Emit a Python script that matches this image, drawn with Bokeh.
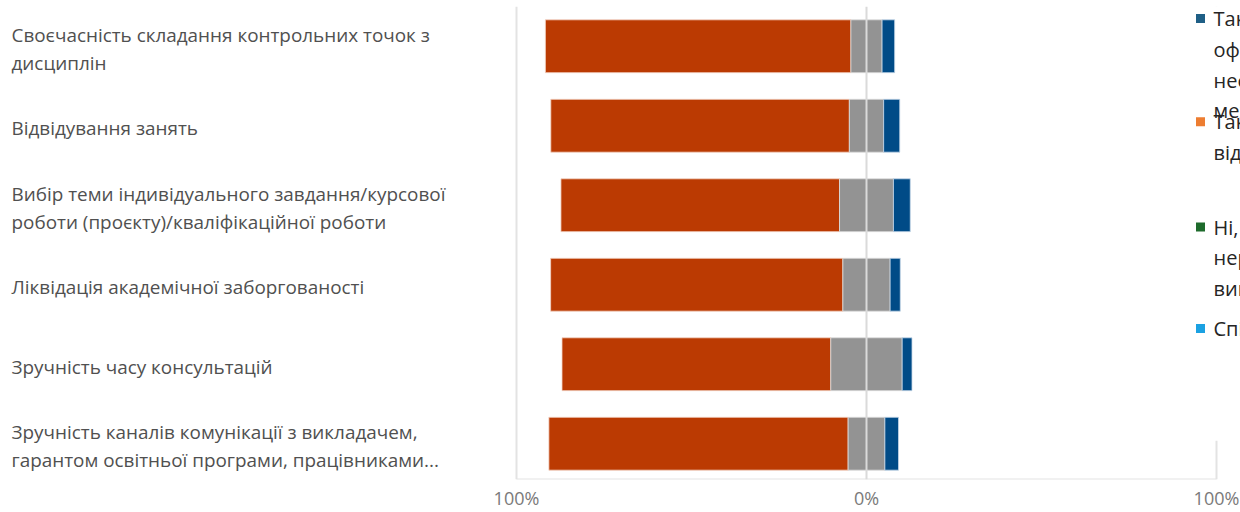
import numpy as np
from bokeh.plotting import figure
from bokeh.models import Range1d, FixedTicker, Span
from bokeh.core.properties import value
from bokeh.embed import file_html
from bokeh.resources import INLINE

# ---------------- data ----------------
categories = [
    "Своєчасність складання контрольних точок з\nдисциплін",
    "Відвідування занять",
    "Вибір теми індивідуального завдання/курсової\nроботи (проєкту)/кваліфікаційної роботи",
    "Ліквідація академічної заборгованості",
    "Зручність часу консультацій",
    "Зручність каналів комунікації з викладачем,\nгарантом освітньої програми, працівниками...",
]
negative = [87.3, 85.3, 79.6, 83.5, 76.8, 85.5]   # left (orange-red)
neutral = [8.9, 9.8, 15.4, 13.5, 20.4, 10.5]      # centred (grey)
positive = [3.6, 4.6, 4.8, 2.9, 2.8, 3.9]         # right (dark blue)

tick_values = [-100, 0, 100]
tick_labels = ["100%", "0%", "100%"]

legend_labels = [
    "Так, існують\nофіційні та\nнеофіційні\nмеханізми",
    "Так, але\nвідсутні правила",
    "Ні, бо\nнерегульовано\nвиникає",
    "Спірне питання",
]
legend_colors = ["#1f5f86", "#ed7d31", "#1e6b2c", "#1ba1e2"]

COL_NEG, COL_NEU, COL_POS = "#bb3a02", "#939393", "#004b87"

# ---------------- layout helpers ----------------
W, H = 1240, 512
TOP = 6
BOTTOM = 30
FRAME_H = H - TOP - BOTTOM
PX_PER_UNIT = 3.5
ZERO_PX = 866          # page x of 0%
X_START = (0 - ZERO_PX) / PX_PER_UNIT
X_END = (W - ZERO_PX) / PX_PER_UNIT
Y_TOP, Y_BOT = -0.5, 5.45


def px2x(px):
    return (px - ZERO_PX) / PX_PER_UNIT


def py2y(py):
    return Y_TOP + (py - TOP) / FRAME_H * (Y_BOT - Y_TOP)


rows = np.arange(len(categories))
neg = np.array(negative)
neu = np.array(neutral)
pos = np.array(positive)

p = figure(width=W, height=H, output_backend="svg", toolbar_location=None,
           x_range=Range1d(X_START, X_END), y_range=Range1d(Y_BOT, Y_TOP),
           y_axis_location=None, min_border_left=0, min_border_right=0,
           min_border_top=TOP, min_border_bottom=BOTTOM)
p.outline_line_color = None
p.background_fill_color = "white"
p.border_fill_color = "white"
p.ygrid.visible = False
p.xgrid.ticker = FixedTicker(ticks=[-100, 100])
p.xgrid.grid_line_color = "#e3e3e3"
p.xgrid.grid_line_width = 2

# bottom frame line
p.segment(x0=[-100], x1=[100], y0=[Y_BOT], y1=[Y_BOT], line_color="#e3e3e3", line_width=2)

# bars
bar_h = 0.665
p.hbar(y=rows, left=-neu / 2 - neg, right=-neu / 2, height=bar_h,
       fill_color=COL_NEG, line_color="#f4d6c8", line_width=0.8)
p.hbar(y=rows, left=-neu / 2, right=neu / 2, height=bar_h,
       fill_color=COL_NEU, line_color="#dddddd", line_width=0.8)
p.hbar(y=rows, left=neu / 2, right=neu / 2 + pos, height=bar_h,
       fill_color=COL_POS, line_color="#c8d8e8", line_width=0.8)

# centre line above bars
p.add_layout(Span(location=0, dimension="height", line_color="#dadada", line_width=2))

# category labels
p.text(x=[px2x(11)] * len(categories), y=rows, text=categories,
       text_align="left", text_baseline="middle", y_offset=2.5,
       text_font=value("Open Sans"), text_font_size="18.9px",
       text_color="#505050", text_line_height=1.09)

# legend (cover for the grid line, markers, labels)
p.quad(left=[px2x(1186)], right=[px2x(1250)], top=[py2y(-10)], bottom=[py2y(443)],
       fill_color="white", line_color=None)
first_line_py = [18, 122, 228, 330]
line_px = 31
n_lines = np.array([s.count("\n") + 1 for s in legend_labels])
centers = [py2y(f + (n - 1) * line_px / 2) for f, n in zip(first_line_py, n_lines)]
p.scatter(x=[px2x(1200)] * 4, y=[py2y(f) for f in first_line_py], marker="square",
          size=9, fill_color=legend_colors, line_color=None)
p.text(x=[px2x(1213)] * 4, y=centers, text=legend_labels,
       text_align="left", text_baseline="middle",
       text_font=value("Open Sans"), text_font_size="20px",
       text_color="#252525", text_line_height=1.14)

# x axis
p.xaxis.ticker = FixedTicker(ticks=tick_values)
p.xaxis.major_label_overrides = {v: l for v, l in zip(tick_values, tick_labels)}
p.xaxis.axis_line_color = None
p.xaxis.major_tick_line_color = None
p.xaxis.minor_tick_line_color = None
p.xaxis.major_tick_out = 0
p.xaxis.major_label_standoff = 6
p.xaxis.major_label_text_font = "Open Sans"
p.xaxis.major_label_text_font_size = "18px"
p.xaxis.major_label_text_color = "#7a7a7a"

open("out.html", "w").write(file_html(p, INLINE))
